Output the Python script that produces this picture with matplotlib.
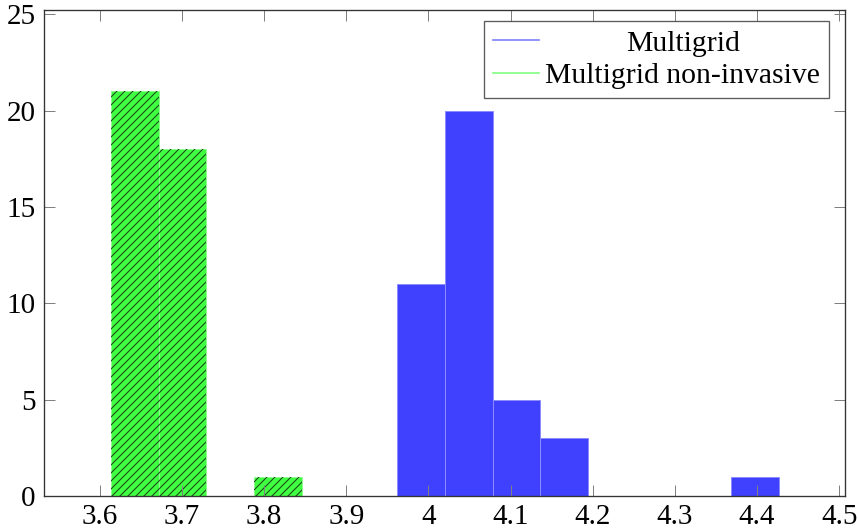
import matplotlib

matplotlib.use("Agg")
import matplotlib.pyplot as plt
from matplotlib.transforms import Affine2D

# histogram bins (left edges) and counts
ancho_bin = 0.0581
bordes_noinv = [3.6134, 3.6715, 3.7296, 3.7877]
cuentas_noinv = [21, 18, 0, 1]
bordes_mg = [3.962, 4.020, 4.078, 4.136, 4.194, 4.252, 4.310, 4.368]
cuentas_mg = [11, 20, 5, 3, 0, 0, 0, 1]

xticks = [3.6, 3.7, 3.8, 3.9, 4.0, 4.1, 4.2, 4.3, 4.4, 4.5]
xlabels = ["3.6", "3.7", "3.8", "3.9", "4", "4.1", "4.2", "4.3", "4.4", "4.5"]
yticks = [0, 5, 10, 15, 20, 25]

AZUL = "#4040ff"
VERDE = "#40ff40"
DPI = 120

plt.rcParams["font.family"] = ["Liberation Serif", "DejaVu Serif"]
plt.rcParams["hatch.linewidth"] = 0.6

fig = plt.figure(figsize=(858 / DPI, 530 / DPI), dpi=DPI)
ax = fig.add_axes([0.0513, 0.0642, 0.9335, 0.9160])

ax.bar(bordes_mg, cuentas_mg, width=ancho_bin, align="edge",
       color=AZUL, edgecolor="#8c8cff", linewidth=0.6)
ax.bar(bordes_noinv, cuentas_noinv, width=ancho_bin, align="edge",
       color=VERDE, edgecolor="#8cff8c", linewidth=0.6)
# hatch drawn in a separate pass so it can be darker than the edge
ax.bar(bordes_noinv, cuentas_noinv, width=ancho_bin, align="edge",
       facecolor="none", edgecolor="#1a3d1a", linewidth=0, hatch="/////")

# legend handles as lines, like pgfplots
ax.plot([], [], color="#8080ff", lw=1.0, label="Multigrid")
ax.plot([], [], color="#80ff80", lw=1.0, label="Multigrid non-invasive")

ax.set_xlim(3.532, 4.507)
ax.set_ylim(0, 25.2)
ax.set_xticks(xticks)
ax.set_xticklabels(xlabels)
ax.set_yticks(yticks)
ax.tick_params(direction="in", length=6.5, width=0.6, color="#808080",
               labelsize=17.5, top=True, right=True, pad=5)
for s in ax.spines.values():
    s.set_color("#333333")
    s.set_linewidth(0.8)

leg = ax.legend(loc="upper right", fontsize=17.8, frameon=True, fancybox=False,
                edgecolor="#333333", handlelength=1.55, handletextpad=0.2,
                borderpad=0.3, labelspacing=0.2, borderaxespad=0,
                bbox_to_anchor=(829 / 858, 1 - 21 / 530),
                bbox_transform=fig.transFigure)
leg.get_frame().set_linewidth(0.8)

# pgfplots centra las entradas de la leyenda: desplazar la corta
fig.canvas.draw()
r = fig.canvas.get_renderer()
textos = leg.get_texts()
anchos = [t.get_window_extent(r).width for t in textos]
for t, w in zip(textos, anchos):
    dx = (max(anchos) - w) / 2
    if dx > 0:
        t.set_transform(t.get_transform() + Affine2D().translate(dx, 0))

fig.savefig("out.png", dpi=DPI)
